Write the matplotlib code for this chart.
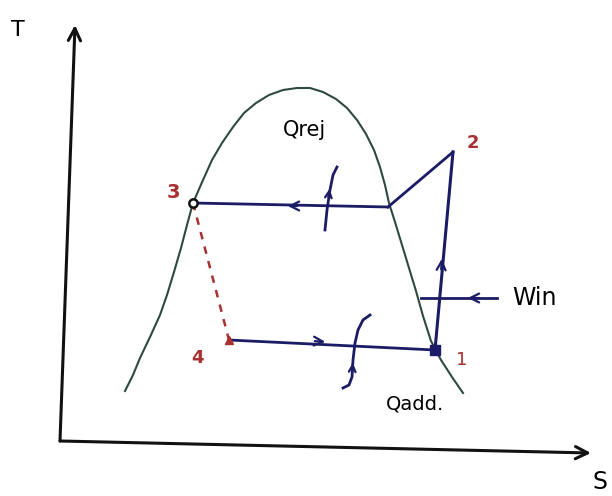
import matplotlib.pyplot as plt

# T-s diagram of a refrigeration cycle, in picture coordinates (y down)
dome_s = [125, 133, 140, 150, 160, 167, 174, 181, 187, 193, 203, 212, 222, 233, 244, 256,
          269, 283, 297, 310, 323, 336, 347, 357, 366, 374, 380, 385, 389, 395, 402, 409,
          416, 423, 431, 441, 452, 463]
dome_t = [391, 375, 358, 337, 315, 295, 272, 248, 225, 203, 180, 160, 143, 127, 113, 103,
          95, 90, 88, 88, 92, 99, 108, 120, 134, 150, 167, 185, 203, 222, 245, 268,
          291, 316, 341, 360, 377, 393]

# cycle states 1..4 and the saturated vapour point on line 2-3
p1 = (435, 350)
p2 = (453, 152)
p3 = (193, 203)
p4 = (229, 340)
pg = (388, 207)

# wavy heat arrows
qrej_s = [325, 327, 330, 333, 337]
qrej_t = [230, 210, 190, 175, 167]
qadd_s = [343, 349, 352, 353, 355, 358, 363, 370]
qadd_t = [388, 385, 377, 360, 343, 330, 320, 315]

navy = "#1c1c66"
green = "#2e4a40"
red = "#a83030"

fig = plt.figure(figsize=(6.12, 4.96), dpi=100)
ax = fig.add_axes([0, 0, 1, 1])
ax.set_xlim(0, 612)
ax.set_ylim(496, 0)
ax.axis("off")

# axes of the sketch
ax.annotate("", xy=(75, 25), xytext=(60, 441),
            arrowprops=dict(arrowstyle="->", lw=2.2, color="#111", mutation_scale=22,
                            shrinkA=0, shrinkB=0))
ax.annotate("", xy=(591, 453), xytext=(60, 441),
            arrowprops=dict(arrowstyle="->", lw=2.2, color="#111", mutation_scale=22,
                            shrinkA=0, shrinkB=0))
ax.text(18, 30, "T", fontsize=16, ha="center", va="center")
ax.text(600, 482, "S", fontsize=17, ha="center", va="center")

# saturation dome
ax.plot(dome_s, dome_t, color=green, lw=1.5)

# cycle lines
ax.plot([p3[0], pg[0]], [p3[1], pg[1]], color=navy, lw=2.0)
ax.plot([pg[0], p2[0]], [pg[1], p2[1]], color=navy, lw=2.0)
ax.plot([p2[0], p1[0]], [p2[1], p1[1]], color=navy, lw=2.2)
ax.plot([p4[0], p1[0]], [p4[1], p1[1]], color=navy, lw=2.0)
ax.plot([p3[0], p4[0]], [p3[1], p4[1]], color=red, lw=1.8, ls=(0, (3, 3)))

# direction arrows on the lines
arr = dict(arrowstyle="->", lw=1.6, color=navy, mutation_scale=16)
ax.annotate("", xy=(285, 206), xytext=(300, 206), arrowprops=arr)
ax.annotate("", xy=(328, 342), xytext=(312, 341), arrowprops=arr)
ax.annotate("", xy=(442, 256), xytext=(441, 272), arrowprops=arr)

# work input
ax.plot([421, 497], [298, 298], color=navy, lw=2.0)
ax.annotate("", xy=(465, 298), xytext=(482, 298), arrowprops=arr)
ax.text(512, 298, "Win", fontsize=17, ha="left", va="center")

# heat rejected
ax.plot(qrej_s, qrej_t, color=navy, lw=2.0)
ax.annotate("", xy=(330, 186), xytext=(328, 200),
            arrowprops=dict(arrowstyle="->", lw=1.6, color=navy, mutation_scale=12))
ax.text(305, 130, "Qrej", fontsize=15, ha="center", va="center")

# heat added
ax.plot(qadd_s, qadd_t, color=navy, lw=2.0)
ax.annotate("", xy=(353, 360), xytext=(352, 375),
            arrowprops=dict(arrowstyle="->", lw=1.6, color=navy, mutation_scale=12))
ax.text(415, 404, "Qadd.", fontsize=14, ha="center", va="center")

# state points
ax.plot(*p3, marker="o", ms=6, mfc="white", mec="#111", mew=1.8)
ax.plot(*p4, marker="^", ms=6, color=red)
ax.plot(*p1, marker="s", ms=7, color=navy)

ax.text(173, 193, "3", color=red, fontsize=14, ha="center", va="center", fontweight="bold")
ax.text(473, 143, "2", color=red, fontsize=13, ha="center", va="center", fontweight="bold")
ax.text(197, 358, "4", color=red, fontsize=13, ha="center", va="center", fontweight="bold")
ax.text(462, 360, "1", color=red, fontsize=13, ha="center", va="center")

fig.savefig("out.png", dpi=100)
